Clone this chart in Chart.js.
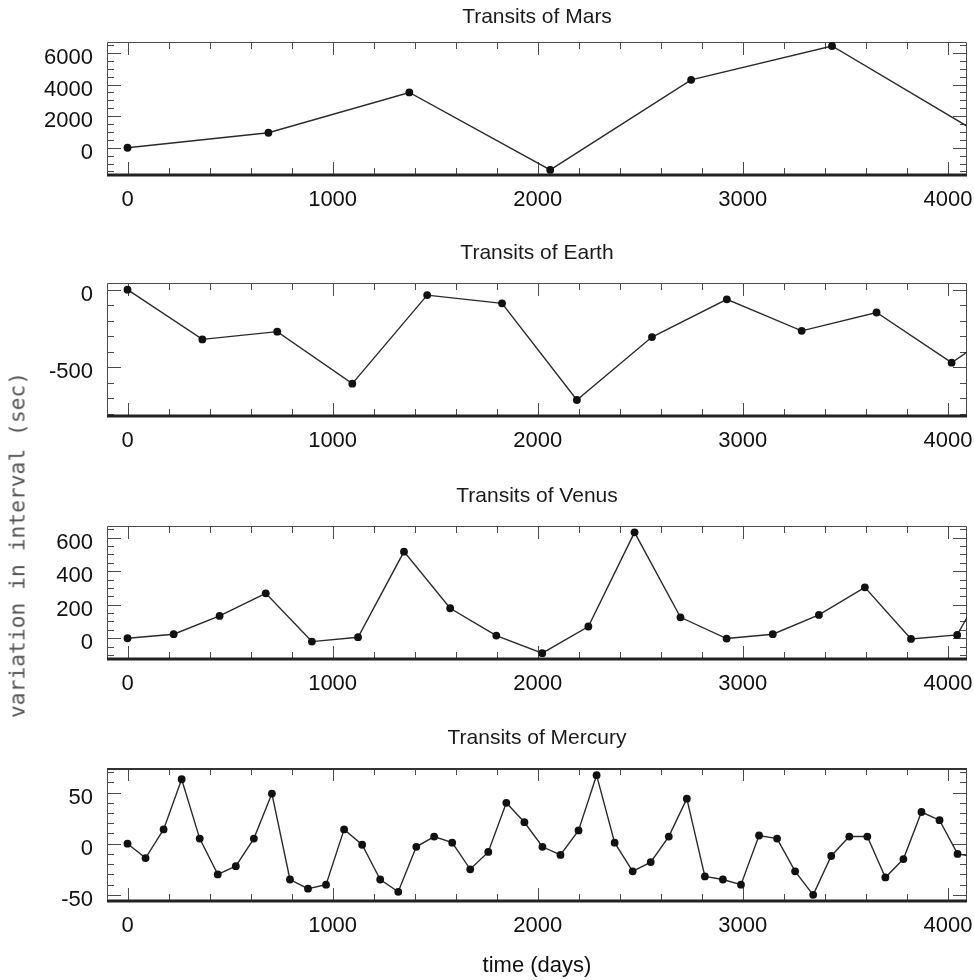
<!DOCTYPE html>
<html>
<head>
<meta charset="utf-8">
<title>Transit timing variations</title>
<script src="https://cdn.jsdelivr.net/npm/chart.js@4.4.1/dist/chart.umd.min.js"></script>
<style>
  html, body { margin: 0; padding: 0; background: #fff; width: 974px; height: 980px; overflow: hidden; }
  canvas.panel { position: absolute; left: 0; }
  #ytitle {
    position: absolute; left: 17px; top: 545px;
    transform: translate(-50%, -50%) rotate(-90deg);
    font-family: "DejaVu Sans Mono", monospace; font-size: 21.3px; color: #555;
    white-space: nowrap;
  }
</style>
</head>
<body>
<canvas id="mars" class="panel"></canvas>
<canvas id="earth" class="panel"></canvas>
<canvas id="venus" class="panel"></canvas>
<canvas id="mercury" class="panel"></canvas>
<div id="ytitle">variation in interval (sec)</div>

<script>
// ---- data: transit times (days) and variation in transit interval (sec) ----
const marsDays = [0, 687, 1374, 2061, 2748, 3435, 4122];
const marsSec  = [0, 950, 3500, -1400, 4300, 6440, 1150];

const earthDays = [0, 365, 730, 1096, 1461, 1826, 2191, 2557, 2922, 3287, 3652, 4018, 4383];
const earthSec  = [0, -320, -270, -605, -35, -88, -710, -305, -62, -265, -147, -470, -140];

const venusDays = [0, 225, 449, 674, 899, 1124, 1348, 1573, 1798, 2022, 2247, 2472, 2696,
                   2921, 3146, 3371, 3595, 3820, 4045, 4269];
const venusSec  = [0, 24, 133, 268, -20, 6, 517, 179, 16, -89, 70, 632, 125,
                   -2, 24, 139, 304, -4, 20, 500];

const mercuryDays = [0, 88, 176, 264, 352, 440, 528, 616, 704, 792, 880, 968, 1056, 1144,
                     1232, 1320, 1408, 1495, 1583, 1671, 1759, 1847, 1935, 2023, 2111, 2199,
                     2287, 2375, 2463, 2551, 2639, 2727, 2815, 2903, 2991, 3079, 3167, 3255,
                     3343, 3431, 3519, 3607, 3695, 3783, 3871, 3959, 4047, 4135];
const mercurySec  = [0, -14, 14, 63, 5, -30, -22, 5, 49, -35, -44, -40, 14, -1,
                     -35, -47, -3, 7, 1, -25, -8, 40, 21, -3, -11, 13,
                     67, 1, -27, -18, 7, 44, -32, -35, -40, 8, 5, -27,
                     -50, -12, 7, 7, -33, -15, 31, 23, -10, -13];

// ---- axis ranges and tick labels ----
const xRange = [-100, 4093];
const xTickLabels = [0, 1000, 2000, 3000, 4000];

const marsRange = [-1724, 6694];
const marsTicks = [0, 2000, 4000, 6000];
const earthRange = [-813, 43];
const earthTicks = [-500, 0];
const venusRange = [-124, 670];
const venusTicks = [0, 200, 400, 600];
const mercuryRange = [-56, 74];
const mercuryTicks = [-50, 0, 50];

// ---- layout of the four stacked panels (page pixels) ----
const PLOT_LEFT = 107, PLOT_RIGHT = 967, CANVAS_W = 1000, HEAD = 42;
const FONT = "'Liberation Sans', Arial, Helvetica, sans-serif";

const panels = [
  { id: 'mars',    title: 'Transits of Mars',    days: marsDays,    sec: marsSec,
    range: marsRange,    ticks: marsTicks,    minor: 500, top: 42,  bottom: 175, gap: 12 },
  { id: 'earth',   title: 'Transits of Earth',   days: earthDays,   sec: earthSec,
    range: earthRange,   ticks: earthTicks,   minor: 100, top: 283, bottom: 416, gap: 17 },
  { id: 'venus',   title: 'Transits of Venus',   days: venusDays,   sec: venusSec,
    range: venusRange,   ticks: venusTicks,   minor: 50,  top: 526, bottom: 659, gap: 17 },
  { id: 'mercury', title: 'Transits of Mercury', days: mercuryDays, sec: mercurySec,
    range: mercuryRange, ticks: mercuryTicks, minor: 10,  top: 768, bottom: 901, gap: 17 }
];

// Box frame with inward major/minor tick marks on all four sides.
const frameTicks = {
  id: 'frameTicks',
  beforeDatasetsDraw(chart, args, opts) {
    const { ctx, chartArea: a, scales: { x, y } } = chart;
    ctx.save();
    ctx.strokeStyle = '#4a4a4a';
    ctx.lineWidth = 1;
    // x ticks
    const xStep = opts.xMinor;
    for (let i = Math.ceil(x.min / xStep); i * xStep <= x.max; i++) {
      const v = i * xStep;
      const px = Math.round(x.getPixelForValue(v)) + 0.5;
      const len = (v % opts.xMajor === 0) ? 13 : 7;
      ctx.beginPath();
      ctx.moveTo(px, a.bottom); ctx.lineTo(px, a.bottom - len);
      ctx.moveTo(px, a.top);    ctx.lineTo(px, a.top + len);
      ctx.stroke();
    }
    // y ticks
    const yStep = opts.yMinor;
    for (let i = Math.ceil(y.min / yStep); i * yStep <= y.max; i++) {
      const v = i * yStep;
      const py = Math.round(y.getPixelForValue(v)) + 0.5;
      const len = opts.yMajorSet.includes(v) ? 14 : 7;
      ctx.beginPath();
      ctx.moveTo(a.left, py);  ctx.lineTo(a.left + len, py);
      ctx.moveTo(a.right, py); ctx.lineTo(a.right - len, py);
      ctx.stroke();
    }
    // frame: thin left/top/right, heavy bottom axis
    ctx.beginPath();
    ctx.moveTo(a.left + 0.5, a.bottom);
    ctx.lineTo(a.left + 0.5, a.top + 0.5);
    ctx.lineTo(a.right - 0.5, a.top + 0.5);
    ctx.lineTo(a.right - 0.5, a.bottom);
    ctx.stroke();
    if (opts.heavyTop) {
      ctx.strokeStyle = '#333';
      ctx.lineWidth = 2;
      ctx.beginPath();
      ctx.moveTo(a.left, a.top + 1); ctx.lineTo(a.right, a.top + 1);
      ctx.stroke();
    }
    ctx.strokeStyle = '#222';
    ctx.lineWidth = 3;
    ctx.beginPath();
    ctx.moveTo(a.left, a.bottom); ctx.lineTo(a.right, a.bottom);
    ctx.stroke();
    ctx.restore();
  }
};

panels.forEach((p, idx) => {
  const last = idx === panels.length - 1;
  const axisH = last ? 980 - p.bottom : 52;
  const canvas = document.getElementById(p.id);
  canvas.width = CANVAS_W;
  canvas.height = HEAD + (p.bottom - p.top) + axisH;
  canvas.style.top = (p.top - HEAD) + 'px';

  const titleLine = 21 * 1.2;

  new Chart(canvas, {
    type: 'line',
    data: {
      datasets: [{
        data: p.days.map((d, i) => ({ x: d, y: p.sec[i] })),
        borderColor: '#2a2a2a',
        borderWidth: 1.4,
        pointRadius: 3.9,
        pointBackgroundColor: '#111',
        pointBorderWidth: 0,
        tension: 0,
        clip: 0
      }]
    },
    options: {
      responsive: false,
      animation: false,
      devicePixelRatio: 1,
      events: [],
      layout: { padding: { left: 0, right: CANVAS_W - PLOT_RIGHT, top: 0, bottom: 0 } },
      plugins: {
        legend: { display: false },
        tooltip: { enabled: false },
        title: {
          display: true,
          text: p.title,
          fullSize: false,
          color: '#1a1a1a',
          font: { family: FONT, size: 21, weight: 'normal', lineHeight: 1.2 },
          padding: { top: HEAD - titleLine - p.gap, bottom: p.gap }
        },
        frameTicks: {
          xMinor: 200, xMajor: 1000,
          yMinor: p.minor, yMajorSet: p.ticks,
          heavyTop: last
        }
      },
      scales: {
        x: {
          type: 'linear',
          min: xRange[0], max: xRange[1],
          grid: { display: false, drawTicks: false },
          border: { display: false },
          afterBuildTicks: s => { s.ticks = xTickLabels.map(v => ({ value: v })); },
          afterFit: s => { s.height = axisH; },
          ticks: {
            padding: 12, color: '#111', maxRotation: 0, autoSkip: false,
            font: { family: FONT, size: 22 },
            callback: v => String(v)
          },
          title: {
            display: last,
            text: 'time (days)',
            color: '#111',
            font: { family: FONT, size: 22 },
            padding: { top: 0, bottom: 1 }
          }
        },
        y: {
          type: 'linear',
          min: p.range[0], max: p.range[1],
          grid: { display: false, drawTicks: false },
          border: { display: false },
          afterBuildTicks: s => { s.ticks = p.ticks.map(v => ({ value: v })); },
          afterFit: s => { s.width = PLOT_LEFT; },
          ticks: {
            padding: 14, labelOffset: 5, color: '#111', autoSkip: false,
            font: { family: FONT, size: 22 },
            callback: v => String(v)
          }
        }
      }
    },
    plugins: [frameTicks]
  });
});
</script>
</body>
</html>
